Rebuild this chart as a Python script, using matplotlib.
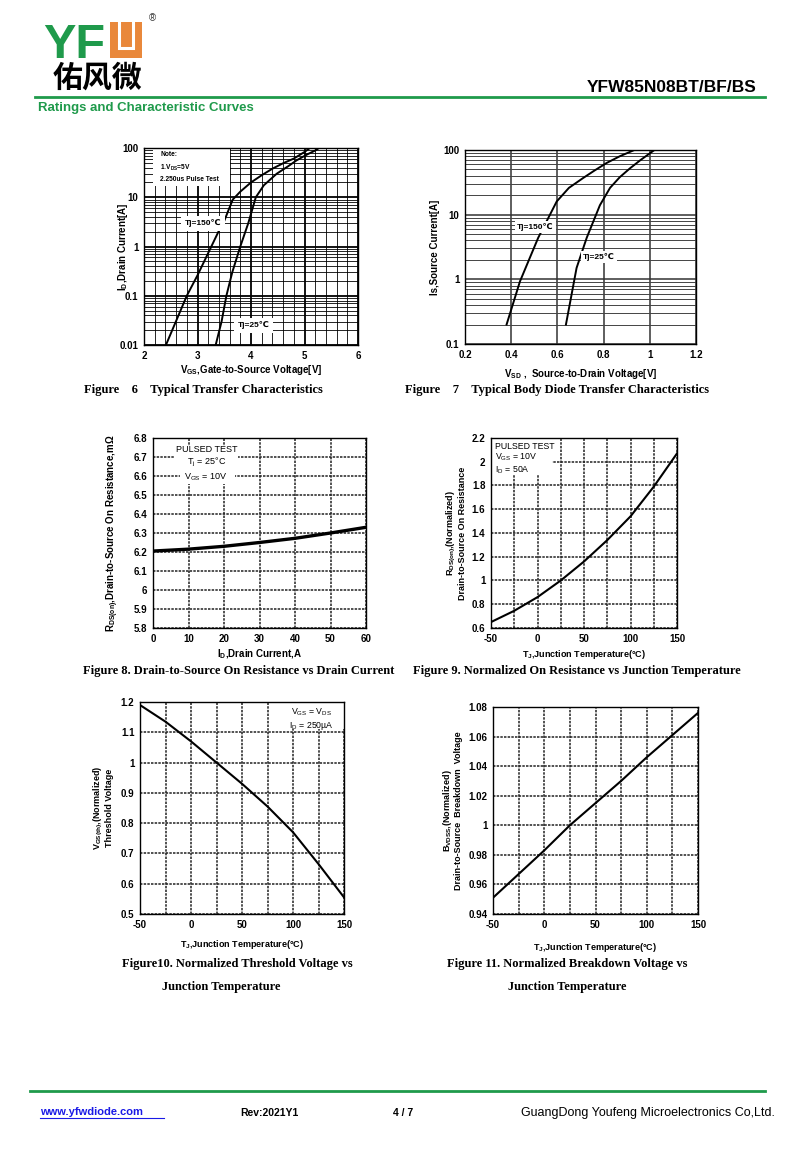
import matplotlib
matplotlib.use("Agg")
import matplotlib.pyplot as plt
from matplotlib.patches import Rectangle
from matplotlib.ticker import NullFormatter, MultipleLocator

plt.rcParams['font.family'] = ['Liberation Sans', 'DejaVu Sans']
plt.rcParams['mathtext.default'] = 'regular'
plt.rcParams['axes.unicode_minus'] = False

# ---------------- data ----------------
# Fig 6 transfer characteristics
f6_v150 = [2.41, 2.8, 3.0, 3.41, 3.5, 3.58, 3.66, 3.8, 4.0, 4.2, 4.4, 4.6, 4.8, 5.0, 5.1]
f6_i150 = [0.01, 0.1, 0.26, 2.2, 3.3, 5.5, 9.0, 13.0, 20.0, 28.0, 38.0, 49.0, 61.0, 83.0, 100.0]
f6_v25 = [3.34, 3.45, 3.54, 3.65, 3.8, 3.95, 4.09, 4.24, 4.48, 4.7, 4.85, 5.05, 5.21, 5.27]
f6_i25 = [0.01, 0.03, 0.1, 0.3, 1.0, 3.0, 10.0, 17.5, 30.0, 43.0, 56.0, 74.0, 90.0, 100.0]
# Fig 7 body diode
f7_v150 = [0.38, 0.438, 0.517, 0.597, 0.65, 0.712, 0.76, 0.813, 0.87, 0.933]
f7_i150 = [0.2, 0.93, 4.4, 16.0, 26.0, 37.0, 48.0, 63.0, 80.0, 100.0]
f7_v25 = [0.637, 0.683, 0.727, 0.784, 0.828, 0.87, 0.914, 0.96, 1.02]
f7_i25 = [0.2, 1.5, 4.4, 14.0, 26.0, 38.0, 52.0, 70.0, 100.0]
# Fig 8 Rds(on) vs Id
f8_id = [0, 10, 20, 30, 40, 50, 60]
f8_r = [6.205, 6.215, 6.23, 6.25, 6.272, 6.30, 6.33]
# Fig 9 normalized Rds(on) vs Tj
f9_t = [-50, -25, 0, 25, 50, 75, 100, 125, 150]
f9_r = [0.65, 0.745, 0.86, 1.0, 1.16, 1.34, 1.54, 1.79, 2.07]
# Fig 10 normalized Vth vs Tj
f10_t = [-50, -25, 0, 25, 50, 75, 100, 125, 150]
f10_v = [1.19, 1.135, 1.07, 1.0, 0.93, 0.855, 0.77, 0.665, 0.555]
# Fig 11 normalized BVdss vs Tj
f11_t = [-50, -25, 0, 25, 50, 75, 100, 125, 150]
f11_b = [0.951, 0.967, 0.983, 1.0, 1.015, 1.03, 1.046, 1.061, 1.076]

GREEN = '#1f9a4b'
ORANGE = '#e9883b'
W, H = 800, 1153

fig = plt.figure(figsize=(8, 11.53), dpi=100)
ov = fig.add_axes([0, 0, 1, 1], zorder=-1)
ov.set_xlim(0, W); ov.set_ylim(H, 0); ov.axis('off')


def rect(l, r, t, b):
    return [l / W, 1 - b / H, (r - l) / W, (b - t) / H]


LB = dict(fontsize=7, fontweight='bold')


def style(ax, size=7):
    ax.tick_params(which='both', length=0, pad=4, labelsize=size)
    for lab in ax.get_xticklabels() + ax.get_yticklabels():
        lab.set_fontweight('bold')
    for s in ax.spines.values():
        s.set_linewidth(1.0)
        s.set_color('black')


def ylab_at(ax, xfrac):
    ax.yaxis.set_label_coords(xfrac, 0.5)
    ax.yaxis.label.set_va('center')


# ---------------- header ----------------
ov.text(43, 58, 'YF', color=GREEN, fontsize=35, fontweight='bold', ha='left', va='baseline')
ov.add_patch(Rectangle((110, 22), 32, 36, color=ORANGE, lw=0))
ov.plot([119, 119, 133, 133], [22, 48, 48, 22], color='white', lw=2.2, solid_joinstyle='miter')
ov.text(152, 18, '®', fontsize=7, ha='center', va='center', color='#333')
ov.text(97, 78, '佑风微', fontsize=21.5, fontweight='bold', ha='center', va='center',
        family=['Noto Sans CJK SC', 'DejaVu Sans'])
ov.text(757, 87, 'YFW85N08BT/BF/BS', fontsize=12.5, fontweight='bold', ha='right', va='center')
ov.plot([35, 765], [97, 97], color=GREEN, lw=2)
ov.text(38, 108, 'Ratings and Characteristic Curves', color=GREEN, fontsize=9.5,
        fontweight='bold', ha='left', va='center')

# ---------------- footer ----------------
ov.plot([30, 765], [1091, 1091], color=GREEN, lw=2)
ov.text(40, 1112, 'www.yfwdiode.com', color='#1a1ae6', fontsize=8, fontweight='bold',
        ha='left', va='center')
ov.plot([40, 164], [1118, 1118], color='#1a1ae6', lw=0.8)
ov.text(240, 1113, 'Rev:2021Y1', fontsize=7.5, fontweight='bold', ha='left', va='center')
ov.text(393, 1113, '4 / 7', fontsize=7.5, fontweight='bold', ha='left', va='center')
ov.text(775, 1113, 'GuangDong Youfeng Microelectronics Co,Ltd.', fontsize=9,
        ha='right', va='center')

CAP = dict(family='Liberation Serif', fontweight='bold', fontsize=9, ha='center', va='center')
ov.text(203, 390, 'Figure    6    Typical Transfer Characteristics', **CAP)
ov.text(557, 390, 'Figure    7    Typical Body Diode Transfer Characteristics', **CAP)
ov.text(239, 671, 'Figure 8. Drain-to-Source On Resistance vs Drain Current', **CAP)
ov.text(577, 671, 'Figure 9. Normalized On Resistance vs Junction Temperature', **CAP)
ov.text(237, 964, 'Figure10. Normalized Threshold Voltage vs', **CAP)
ov.text(221, 987, 'Junction Temperature', **CAP)
ov.text(567, 964, 'Figure 11. Normalized Breakdown Voltage vs', **CAP)
ov.text(567, 987, 'Junction Temperature', **CAP)

WB = dict(facecolor='white', edgecolor='none', pad=1.5)

# ---------------- Fig 6 ----------------
ax = fig.add_axes(rect(144, 358, 148, 345))
ax.set_yscale('log')
ax.set_xlim(2, 6); ax.set_ylim(0.01, 100)
ax.set_xticks([2, 3, 4, 5, 6])
ax.xaxis.set_minor_locator(MultipleLocator(0.2))
ax.set_yticks([0.01, 0.1, 1, 10, 100])
ax.set_yticklabels(['0.01', '0.1', '1', '10', '100'])
ax.yaxis.set_minor_formatter(NullFormatter())
ax.grid(which='major', color='black', lw=1.3)
ax.grid(which='minor', color='black', lw=0.6)
ax.add_patch(Rectangle((2.17, 17), 1.43, 83, facecolor='white', edgecolor='none', zorder=2))
ax.plot(f6_v150, f6_i150, color='black', lw=1.4, zorder=3)
ax.plot(f6_v25, f6_i25, color='black', lw=1.4, zorder=3)
ax.text(2.3, 88, 'Note:\n1.V$_{DS}$=5V\n2.250us Pulse Test', fontsize=4.8, fontweight='bold',
        ha='left', va='top', linespacing=1.7, zorder=5)
ax.text(3.1, 3.0, 'Tj=150℃', fontsize=6, fontweight='bold', ha='center', va='center',
        zorder=5, bbox=dict(facecolor='white', edgecolor='none', pad=2.5))
ax.text(4.05, 0.025, 'Tj=25℃', fontsize=6, fontweight='bold', ha='center', va='center',
        zorder=5, bbox=dict(facecolor='white', edgecolor='none', pad=2.5))
ax.set_xlabel('V$_{GS}$,Gate-to-Source Voltage[V]', labelpad=2, **LB)
ax.set_ylabel('I$_D$,Drain Current[A]', **LB)
ylab_at(ax, -0.1)
style(ax, 7)

# ---------------- Fig 7 ----------------
ax = fig.add_axes(rect(465, 696, 150, 344))
ax.set_yscale('log')
ax.set_xlim(0.2, 1.2); ax.set_ylim(0.1, 100)
ax.set_xticks([0.2, 0.4, 0.6, 0.8, 1.0, 1.2])
ax.set_xticklabels(['0.2', '0.4', '0.6', '0.8', '1', '1.2'])
ax.set_yticks([0.1, 1, 10, 100])
ax.set_yticklabels(['0.1', '1', '10', '100'])
ax.yaxis.set_minor_formatter(NullFormatter())
ax.grid(which='major', color='#333333', lw=1.1)
ax.grid(which='minor', axis='y', color='#444444', lw=0.7)
ax.plot(f7_v150, f7_i150, color='black', lw=1.4, zorder=3)
ax.plot(f7_v25, f7_i25, color='black', lw=1.4, zorder=3)
ax.text(0.505, 6.4, 'Tj=150℃', fontsize=6, fontweight='bold', ha='center', va='center',
        zorder=5, bbox=WB)
ax.text(0.78, 2.2, 'Tj=25℃', fontsize=6, fontweight='bold', ha='center', va='center',
        zorder=5, bbox=WB)
ax.set_xlabel('V$_{SD}$ ,  Source-to-Drain Voltage[V]', labelpad=5, **LB)
ax.set_ylabel('Is,Source Current[A]', **LB)
ylab_at(ax, -0.13)
style(ax, 7)

DG = dict(color='#222222', lw=1.1, ls=(0, (1.6, 0.8)))

# ---------------- Fig 8 ----------------
ax = fig.add_axes(rect(153, 366, 438, 628))
ax.set_xlim(0, 60); ax.set_ylim(5.8, 6.8)
ax.set_xticks([0, 10, 20, 30, 40, 50, 60])
yt = [5.8, 5.9, 6.0, 6.1, 6.2, 6.3, 6.4, 6.5, 6.6, 6.7, 6.8]
ax.set_yticks(yt)
ax.set_yticklabels(['5.8', '5.9', '6', '6.1', '6.2', '6.3', '6.4', '6.5', '6.6', '6.7', '6.8'])
ax.grid(**DG)
ax.add_patch(Rectangle((7.5, 6.56), 15.5, 0.19, facecolor='white', edgecolor='none', zorder=2))
ax.plot(f8_id, f8_r, color='black', lw=2.4, zorder=3)
ax.text(15, 6.70, 'PULSED TEST\nT$_j$ = 25°C', fontsize=6.5, ha='center', va='center',
        linespacing=1.3, zorder=5, bbox=dict(facecolor='white', edgecolor='none', pad=1))
ax.text(15, 6.595, 'V$_{GS}$ = 10V', fontsize=6.5, ha='center', va='center', zorder=5)
ax.set_xlabel('I$_D$,Drain Current,A', labelpad=3, **LB)
ax.set_ylabel('R$_{DS(on)}$,Drain-to-Source On Resistance,mΩ', **LB)
ylab_at(ax, -0.188)
style(ax)

# ---------------- Fig 9 ----------------
ax = fig.add_axes(rect(491, 677, 438, 628))
ax.set_xlim(-50, 150); ax.set_ylim(0.6, 2.2)
ax.set_xticks([-50, 0, 50, 100, 150])
ax.xaxis.set_minor_locator(MultipleLocator(25))
ax.set_yticks([0.6, 0.8, 1.0, 1.2, 1.4, 1.6, 1.8, 2.0, 2.2])
ax.set_yticklabels(['0.6', '0.8', '1', '1.2', '1.4', '1.6', '1.8', '2', '2.2'])
ax.grid(which='both', **DG)
ax.add_patch(Rectangle((-50, 1.89), 66, 0.31, facecolor='white', edgecolor='none', zorder=2))
ax.plot(f9_t, f9_r, color='black', lw=1.5, zorder=3)
ax.text(-46, 2.17, 'PULSED TEST\nV$_{GS}$ = 10V\nI$_D$ = 50A', fontsize=6.3, ha='left',
        va='top', linespacing=1.1, zorder=5)
ax.set_xlabel('T$_J$,Junction Temperature(°C)', labelpad=3, fontsize=6.5, fontweight='bold')
ax.set_ylabel('R$_{DS(on)}$,(Normalized)\nDrain-to-Source On Resistance',
              fontsize=6.5, fontweight='bold', linespacing=1.0)
ylab_at(ax, -0.19)
style(ax)

# ---------------- Fig 10 ----------------
ax = fig.add_axes(rect(140, 344, 702, 914))
ax.set_xlim(-50, 150); ax.set_ylim(0.5, 1.2)
ax.set_xticks([-50, 0, 50, 100, 150])
ax.xaxis.set_minor_locator(MultipleLocator(25))
ax.set_yticks([0.5, 0.6, 0.7, 0.8, 0.9, 1.0, 1.1, 1.2])
ax.set_yticklabels(['0.5', '0.6', '0.7', '0.8', '0.9', '1', '1.1', '1.2'])
ax.grid(which='both', **DG)
ax.add_patch(Rectangle((95, 1.11), 55, 0.09, facecolor='white', edgecolor='none', zorder=2))
ax.plot(f10_t, f10_v, color='black', lw=1.5, zorder=3)
ax.text(118, 1.185, 'V$_{GS}$ = V$_{DS}$\nI$_D$ = 250µA', fontsize=6.3, ha='center',
        va='top', linespacing=1.1, zorder=5)
ax.set_xlabel('T$_J$,Junction Temperature(°C)', labelpad=6, fontsize=6.5, fontweight='bold')
ax.set_ylabel('V$_{GS(th)}$,(Normalized)\nThreshold Voltage',
              fontsize=6.5, fontweight='bold', linespacing=1.0)
ylab_at(ax, -0.181)
style(ax)

# ---------------- Fig 11 ----------------
ax = fig.add_axes(rect(493, 698, 707, 914))
ax.set_xlim(-50, 150); ax.set_ylim(0.94, 1.08)
ax.set_xticks([-50, 0, 50, 100, 150])
ax.xaxis.set_minor_locator(MultipleLocator(25))
ax.set_yticks([0.94, 0.96, 0.98, 1.0, 1.02, 1.04, 1.06, 1.08])
ax.set_yticklabels(['0.94', '0.96', '0.98', '1', '1.02', '1.04', '1.06', '1.08'])
ax.grid(which='both', **DG)
ax.plot(f11_t, f11_b, color='black', lw=1.5, zorder=3)
ax.set_xlabel('T$_J$,Junction Temperature(°C)', labelpad=8, fontsize=6.5, fontweight='bold')
ax.set_ylabel('B$_{VDSS}$,(Normalized)\nDrain-to-Source  Breakdown  Voltage',
              fontsize=6.5, fontweight='bold', linespacing=1.0)
ylab_at(ax, -0.2)
style(ax)

fig.savefig('out.png', dpi=100)
